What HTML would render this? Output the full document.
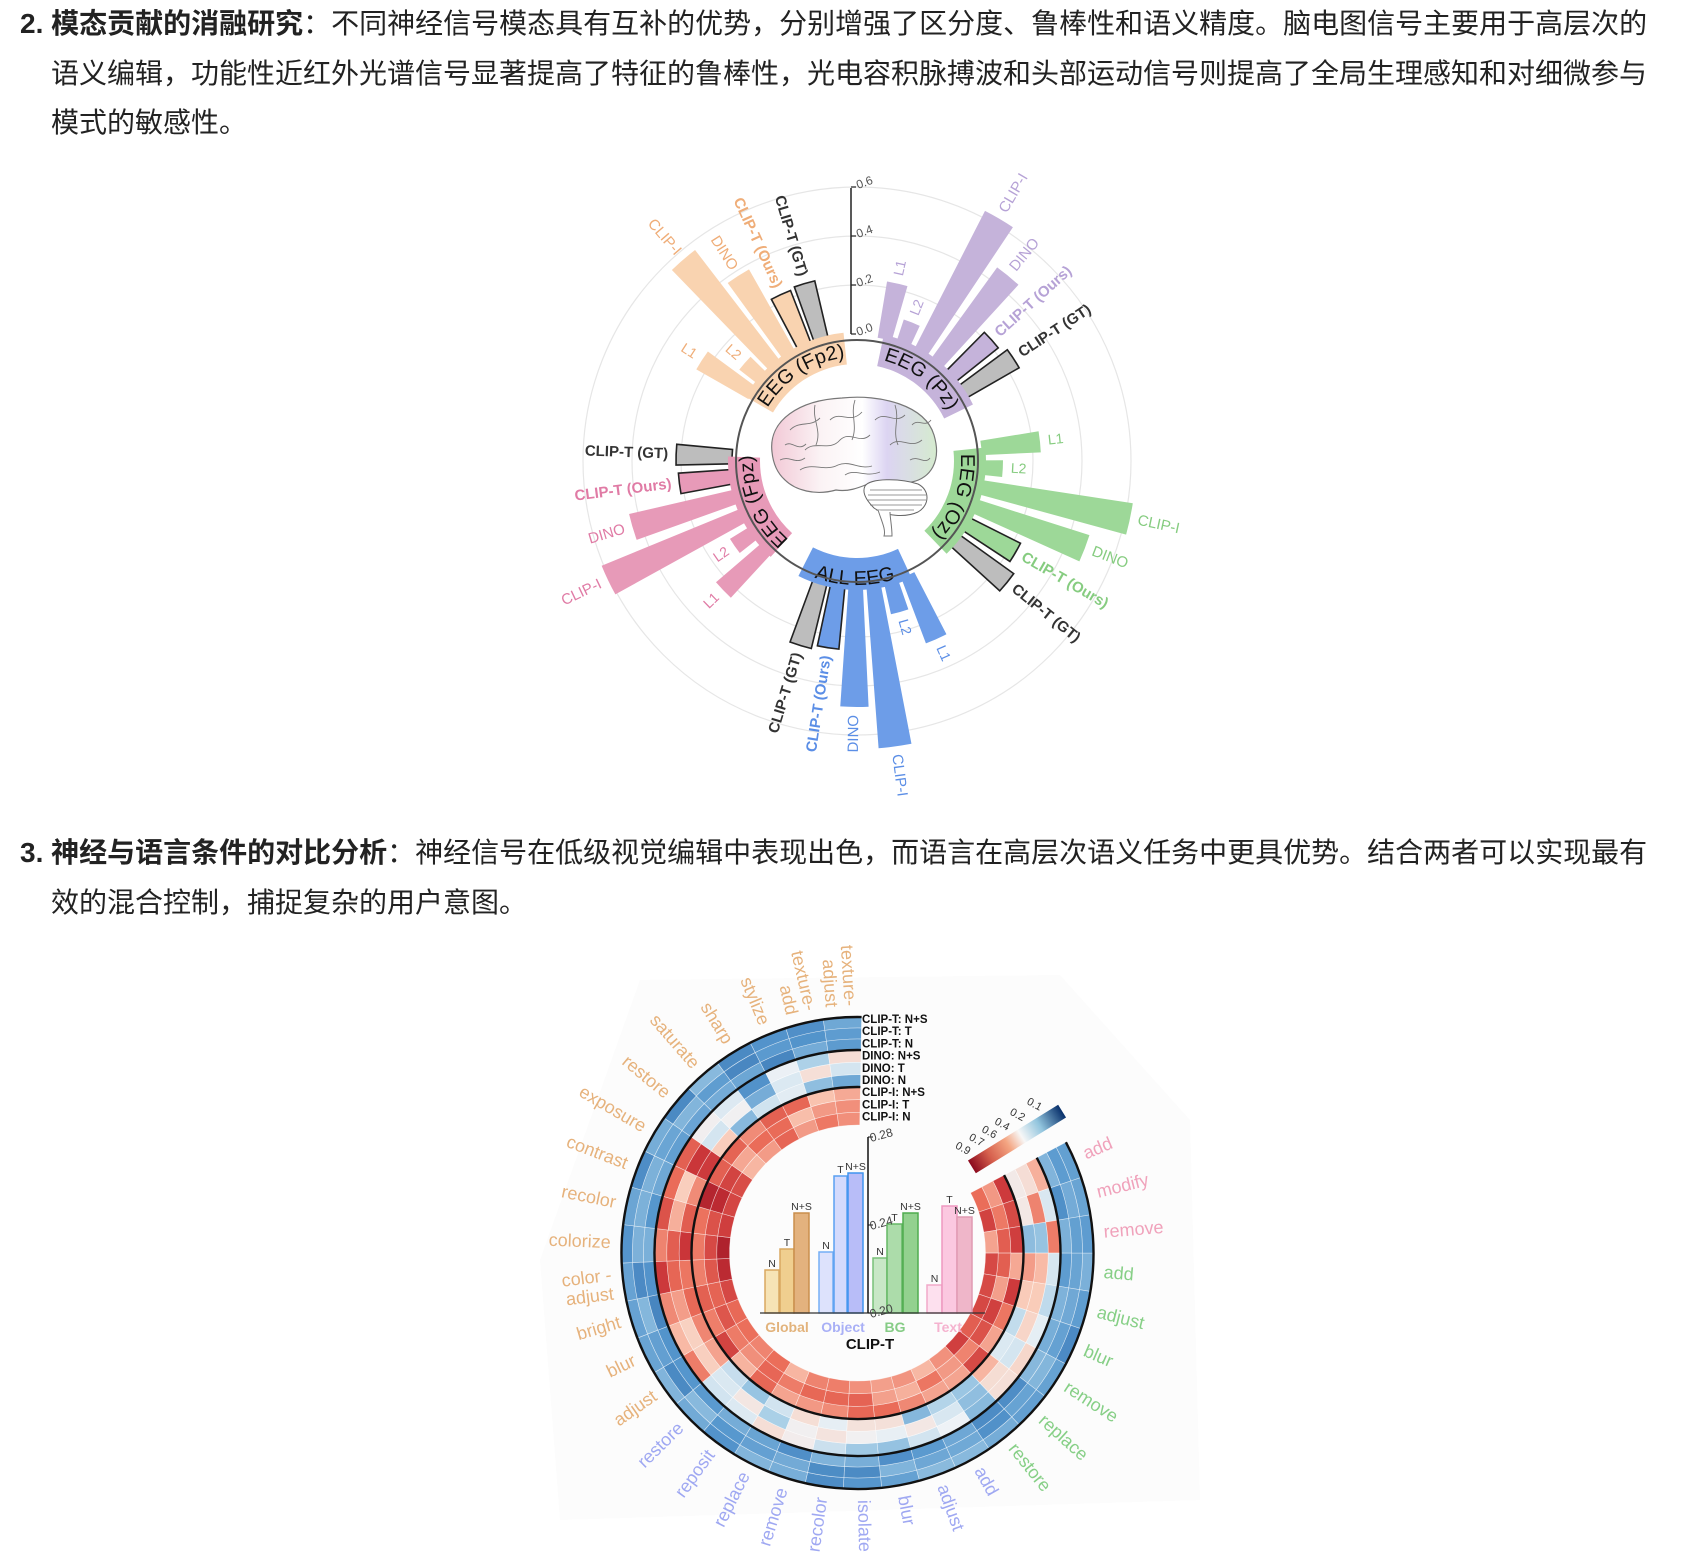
<!DOCTYPE html>
<html><head><meta charset="utf-8">
<style>
html,body{margin:0;padding:0;background:#fff;}
body{width:1685px;height:1553px;position:relative;overflow:hidden;font-family:"Liberation Sans","Noto Sans CJK SC",sans-serif;color:#222;}
.t{position:absolute;font-size:28px;line-height:36px;white-space:nowrap;}
b{font-weight:bold;}
svg{position:absolute;left:0;top:0;}
</style></head>
<body>
<div class="t" style="left:20px;top:6px;"><b>2. 模态贡献的消融研究</b>：不同神经信号模态具有互补的优势，分别增强了区分度、鲁棒性和语义精度。脑电图信号主要用于高层次的</div>
<div class="t" style="left:51px;top:56px;">语义编辑，功能性近红外光谱信号显著提高了特征的鲁棒性，光电容积脉搏波和头部运动信号则提高了全局生理感知和对细微参与</div>
<div class="t" style="left:51px;top:105px;">模式的敏感性。</div>
<div class="t" style="left:20px;top:835px;"><b>3. 神经与语言条件的对比分析</b>：神经信号在低级视觉编辑中表现出色，而语言在高层次语义任务中更具优势。结合两者可以实现最有</div>
<div class="t" style="left:51px;top:885px;">效的混合控制，捕捉复杂的用户意图。</div>

<svg id="s" width="1685" height="1553" xmlns="http://www.w3.org/2000/svg" font-family="Liberation Sans, sans-serif">
<defs>
<linearGradient id="bg" x1="0" x2="1" y1="0" y2="0">
<stop offset="0" stop-color="#f2c9d6"/><stop offset="0.3" stop-color="#fbf3f5"/><stop offset="0.55" stop-color="#ffffff"/><stop offset="0.7" stop-color="#dcd4f2"/><stop offset="1" stop-color="#d5ebcf"/>
</linearGradient>
<linearGradient id="cb" x1="0" x2="1" y1="0" y2="0">
<stop offset="0" stop-color="#8b0a1e"/><stop offset="0.2" stop-color="#d6604d"/><stop offset="0.4" stop-color="#f4a582"/><stop offset="0.55" stop-color="#f7f7f7"/><stop offset="0.75" stop-color="#92c5de"/><stop offset="1" stop-color="#08306b"/>
</linearGradient>
</defs>
<g id="g1"></g>
<g id="brain">
<path d="M772,452 C768,420 800,400 842,398 C880,394 925,405 934,435 C942,462 930,478 912,482 C900,486 880,483 868,484 C858,488 848,492 836,490 C815,496 795,490 785,480 C776,472 773,462 772,452 Z" fill="url(#bg)" stroke="#777" stroke-width="1.2"/>
<path d="M865,486 C870,478 900,478 918,484 C930,490 930,505 918,512 C905,518 885,516 874,508 C866,500 862,492 865,486 Z" fill="#fff" stroke="#666" stroke-width="1"/>
<path d="M870,490 L922,490 M868,495 L926,495 M868,500 L926,500 M870,505 L922,505 M876,510 L914,510" stroke="#777" stroke-width="0.7"/>
<path d="M878,510 C882,522 886,530 884,536 L892,536 C892,526 890,518 890,512" fill="#fff" stroke="#777" stroke-width="1"/>
<path d="M790,430 C800,420 810,428 820,418 M805,450 C815,440 830,452 840,440 C850,430 860,445 870,435 M830,420 C840,410 850,425 862,412 M875,420 C885,410 895,425 905,415 M890,445 C900,435 910,450 922,440 M800,470 C812,462 825,472 838,465 C850,460 860,470 872,466 M845,475 C855,468 865,478 880,472 M910,460 C918,455 925,465 930,458 M785,445 C792,440 798,452 806,444 M855,400 C850,415 858,425 852,440 M895,405 C900,420 892,430 898,445 M815,405 C812,420 822,430 816,445 M780,460 C790,455 795,465 805,458 M912,425 C918,418 925,428 931,420" fill="none" stroke="#777" stroke-width="0.9"/>
</g>
<g id="g2"></g>
</svg>
<script>
var NS="http://www.w3.org/2000/svg";
function el(p,tag,attrs,txt){var e=document.createElementNS(NS,tag);for(var k in attrs)e.setAttribute(k,attrs[k]);if(txt!==undefined)e.textContent=txt;p.appendChild(e);return e;}
function pol(cx,cy,r,a){var t=a*Math.PI/180;return [cx+r*Math.sin(t),cy-r*Math.cos(t)];}
function sector(cx,cy,r0,r1,a0,a1){var p1=pol(cx,cy,r1,a0),p2=pol(cx,cy,r1,a1),p3=pol(cx,cy,r0,a1),p4=pol(cx,cy,r0,a0);var lg=(a1-a0)>180?1:0;
return "M"+p1[0]+","+p1[1]+" A"+r1+","+r1+" 0 "+lg+" 1 "+p2[0]+","+p2[1]+" L"+p3[0]+","+p3[1]+" A"+r0+","+r0+" 0 "+lg+" 0 "+p4[0]+","+p4[1]+"Z";}
function radText(p,cx,cy,r,a,txt,attrs){var q=pol(cx,cy,r,a);var right=((a%360)+360)%360<180;
var rot=right?a-90:a+90;attrs.transform="translate("+q[0]+","+q[1]+") rotate("+rot+")";attrs["text-anchor"]=right?"start":"end";attrs["dominant-baseline"]="middle";return el(p,"text",attrs,txt);}

/* ---------- Chart 1 ---------- */
var g1=document.getElementById("g1");var cx=857,cy=461;
[176,225,274].forEach(function(r){el(g1,"circle",{cx:cx,cy:cy,r:r,fill:"none",stroke:"#e6e6e6","stroke-width":1.2});});
var groups=[
{n:"EEG (Fp2)",c:"#f9d3b0",tc:"#efad78",a0:-57,st:8.1,v:[185,149,266,220,183,185],arc:[-60,-6]},
{n:"EEG (Pz)",c:"#c5b3da",tc:"#b6a2d6",a0:12.8,st:8.8,v:[182,149,281,239,181,187],arc:[12,64]},
{n:"EEG (Oz)",c:"#9dd898",tc:"#86cc80",a0:84,st:9,v:[184,146,279,244,183,193],arc:[84,136]},
{n:"ALL EEG",c:"#6d9de8",tc:"#5b8ee6",a0:156,st:8.2,v:[195,157,288,246,189,193],arc:[155,207]},
{n:"EEG (Fpz)",c:"#e79ab8",tc:"#e07ba5",a0:226,st:9.2,v:[186,149,276,234,179,181],arc:[222,272]}];
var names=["L1","L2","CLIP-I","DINO","CLIP-T (Ours)","CLIP-T (GT)"];
el(g1,"circle",{cx:cx,cy:cy,r:121,fill:"#fff"});
groups.forEach(function(g,gi){
 for(var i=0;i<6;i++){var a=g.a0+i*g.st;var f=g.c,s="none";if(i==4){s="#222";}if(i==5){f="#bdbdbd";s="#222";}
  el(g1,"path",{d:sector(cx,cy,125,g.v[i],a-3.3,a+3.3),fill:f,stroke:s,"stroke-width":1.6});
  var col=i==5?"#333":g.tc;var fw=(i>=4)?"bold":"normal";var fs=(i<2)?14:15;
  radText(g1,cx,cy,g.v[i]+8,a,names[i],{fill:col,"font-size":fs,"font-weight":fw});
 }
});
groups.forEach(function(g,gi){
 el(g1,"path",{d:sector(cx,cy,97,129,g.arc[0],g.arc[1]),fill:g.c});
 var id="ap"+gi,d;
 if(gi==3){var r=124;var p1=pol(cx,cy,r,g.arc[1]),p2=pol(cx,cy,r,g.arc[0]);d="M"+p1[0]+","+p1[1]+" A"+r+","+r+" 0 0 0 "+p2[0]+","+p2[1];}
 else{var r=104;var p1=pol(cx,cy,r,g.arc[0]),p2=pol(cx,cy,r,g.arc[1]);d="M"+p1[0]+","+p1[1]+" A"+r+","+r+" 0 0 1 "+p2[0]+","+p2[1];}
 el(g1,"path",{id:id,d:d,fill:"none"});
 var t=el(g1,"text",{"font-size":20,fill:"#111"});
 el(t,"textPath",{href:"#"+id,startOffset:"50%","text-anchor":"middle"},g.n);
});
el(g1,"circle",{cx:cx,cy:cy,r:121,fill:"none",stroke:"#555","stroke-width":2});
el(g1,"line",{x1:851,y1:334,x2:851,y2:188,stroke:"#222","stroke-width":1.5});
["0.0","0.2","0.4","0.6"].forEach(function(l,i){var y=334-i*49;el(g1,"line",{x1:851,y1:y,x2:856,y2:y,stroke:"#222","stroke-width":1.2});
 el(g1,"text",{x:858,y:y+2,"font-size":12,fill:"#555",transform:"rotate(-20 858 "+(y+2)+")"},l);});

/* ---------- Chart 2 ---------- */
var g2=document.getElementById("g2");var X=857.5,Y=1253;
el(g2,"path",{d:"M640,980 L1060,975 L1190,1120 L1200,1500 L560,1520 L540,1260 Z",fill:"#fcfcfc"});
var seed=7;function rnd(){seed=(seed*9301+49297)%233280;return seed/233280;}
function cmap(v){var st=[[0,[139,10,30]],[0.15,[200,50,55]],[0.3,[235,110,90]],[0.45,[250,200,180]],[0.55,[240,243,246]],[0.7,[165,205,230]],[0.82,[85,150,205]],[1,[20,70,140]]];
 v=Math.max(0,Math.min(1,v));for(var i=1;i<st.length;i++){if(v<=st[i][0]){var a=st[i-1],b=st[i];var t=(v-a[0])/(b[0]-a[0]);var c=[0,1,2].map(function(k){return Math.round(a[1][k]+(b[1][k]-a[1][k])*t);});return "rgb("+c.join(",")+")";}}return "rgb(20,70,140)";}
var A0=62,N=32,W=(361-62)/32;
var radii=[236,225,214,203,190.7,178.3,166,153.3,140.7,128];
for(var i=0;i<N;i++){
 var a0=A0+i*W,a1=a0+W;var left=(i>=18);var bottom=(i>=8&&i<20);
 for(var r=0;r<9;r++){var v;
  if(r<3)v=0.74+rnd()*0.12;
  else if(r<6){ if(left) v=(i<26?0.15+rnd()*0.35:0.45+rnd()*0.4); else if(bottom) v=0.5+rnd()*0.25; else v=0.3+rnd()*0.45;}
  else { if(left) v=(i<26?0.08+rnd()*0.25:0.25+rnd()*0.2); else if(bottom) v=0.27+rnd()*0.16; else v=0.15+rnd()*0.25;}
  el(g2,"path",{d:sector(X,Y,radii[r+1],radii[r],a0,a1),fill:cmap(v),stroke:"#ffffff","stroke-width":0.6,"stroke-opacity":0.6});
 }
}
[236,203,166].forEach(function(r){var p1=pol(X,Y,r,A0),p2=pol(X,Y,r,361);el(g2,"path",{d:"M"+p1[0]+","+p1[1]+" A"+r+","+r+" 0 1 1 "+p2[0]+","+p2[1],fill:"none",stroke:"#111","stroke-width":2.4});});
var rl=["CLIP-T: N+S","CLIP-T: T","CLIP-T: N","DINO: N+S","DINO: T","DINO: N","CLIP-I: N+S","CLIP-I: T","CLIP-I: N"];
rl.forEach(function(l,i){el(g2,"text",{x:862,y:1023+i*12.2,"font-size":11.5,"font-weight":"bold",fill:"#111"},l);});
var cats=[["add","#f0a2bb"],["modify","#f0a2bb"],["remove","#f0a2bb"],["add","#86cf86"],["adjust","#86cf86"],["blur","#86cf86"],["remove","#86cf86"],["replace","#86cf86"],["restore","#86cf86"],
["add","#9fa8f2"],["adjust","#9fa8f2"],["blur","#9fa8f2"],["isolate","#9fa8f2"],["recolor","#9fa8f2"],["remove","#9fa8f2"],["replace","#9fa8f2"],["reposit","#9fa8f2"],["restore","#9fa8f2"],
["adjust","#e6b27c"],["blur","#e6b27c"],["bright","#e6b27c"],["color -|adjust","#e6b27c"],["colorize","#e6b27c"],["recolor","#e6b27c"],["contrast","#e6b27c"],["exposure","#e6b27c"],["restore","#e6b27c"],["saturate","#e6b27c"],["sharp","#e6b27c"],["stylize","#e6b27c"],["texture-|add","#e6b27c"],["texture-|adjust","#e6b27c"]];
cats.forEach(function(c,i){var a=A0+(i+0.5)*W;var parts=c[0].split("|");
 if(parts.length==1){radText(g2,X,Y,247,a,c[0],{fill:c[1],"font-size":18});}
 else{var t=radText(g2,X,Y,247,a,"",{fill:c[1],"font-size":18});t.removeAttribute("dominant-baseline");
  el(t,"tspan",{x:0,dy:-3},parts[0]);el(t,"tspan",{x:0,dy:19},parts[1]);}
});
var cb=el(g2,"g",{transform:"translate(1017,1139) rotate(-31.7)"});
el(cb,"rect",{x:-53,y:-7.5,width:106,height:15,fill:"url(#cb)"});
[["0.9",-50],["0.7",-34],["0.6",-19],["0.4",-4],["0.2",14],["0.1",34]].forEach(function(l){el(cb,"text",{x:l[1],y:-12,"font-size":11,fill:"#333",transform:"rotate(60 "+l[1]+" -12)","text-anchor":"end"},l[0]);});
var bars=[[765,779,1270,"#f6e3b5","#d9a860","N"],[780,794,1249,"#f0cf8f","#d9a860","T"],[794,809,1213,"#e3b27e","#c98e4c","N+S"],
[819,833,1252,"#dde2fc","#74aef5","N"],[834,847,1176,"#d4dafc","#5aa0f2","T"],[848,863,1173,"#b8bdf8","#3f94ef","N+S"],
[873,887,1258,"#c8e7c6","#78c178","N"],[887,902,1224,"#acdcaa","#64b864","T"],[903,918,1213,"#93d18f","#4fac4f","N+S"],
[927,942,1285,"#fde0ee","#f2a9c9","N"],[942,957,1206,"#fbc8e0","#ee98c0","T"],[957,972,1217,"#efb6c9","#e09ab2","N+S"]];
bars.forEach(function(b){el(g2,"rect",{x:b[0],y:b[2],width:b[1]-b[0],height:1313-b[2],fill:b[3],stroke:b[4],"stroke-width":1.5});
 el(g2,"text",{x:(b[0]+b[1])/2,y:b[2]-3,"font-size":10.5,fill:"#333","text-anchor":"middle"},b[5]);});
el(g2,"line",{x1:760,y1:1313,x2:985,y2:1313,stroke:"#333","stroke-width":1.3});
el(g2,"line",{x1:868,y1:1313,x2:868,y2:1137,stroke:"#111","stroke-width":1.5});
[[1137,"0.28"],[1225,"0.24"],[1313,"0.20"]].forEach(function(t){el(g2,"line",{x1:868,y1:t[0],x2:873,y2:t[0],stroke:"#111"});el(g2,"text",{x:871,y:t[0]+5,"font-size":12,fill:"#444",transform:"rotate(-15 871 "+(t[0]+5)+")"},t[1]);});
[[787,"Global","#e2b37c"],[843,"Object","#a9b0f6"],[895,"BG","#86cc86"],[948,"Text","#f5b3cf"]].forEach(function(t){el(g2,"text",{x:t[0],y:1332,"font-size":14,"font-weight":"bold",fill:t[2],"text-anchor":"middle"},t[1]);});
el(g2,"text",{x:870,y:1349,"font-size":15,"font-weight":"bold",fill:"#111","text-anchor":"middle"},"CLIP-T");
</script>
</body></html>
